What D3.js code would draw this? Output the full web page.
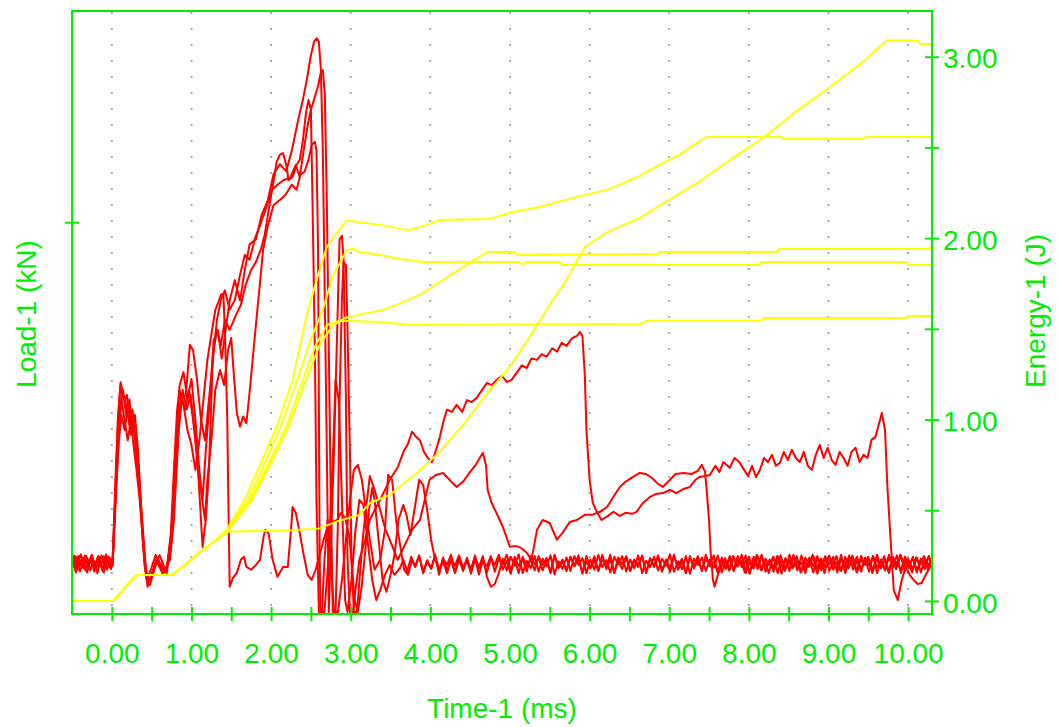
<!DOCTYPE html>
<html>
<head>
<meta charset="utf-8">
<script src="https://cdn.jsdelivr.net/npm/d3@7"></script>
<style>
  body { margin: 0; background: #fff; }
  svg { display: block; font-family: "Liberation Sans", Arial, sans-serif; }
</style>
</head>
<body>
<script>
// time axis (ms)
const timeMajor = [0, 1, 2, 3, 4, 5, 6, 7, 8, 9, 10];
const timeMinor = [0, 0.5, 1, 1.5, 2, 2.5, 3, 3.5, 4, 4.5, 5, 5.5, 6, 6.5, 7, 7.5, 8, 8.5, 9, 9.5, 10];
// energy axis (J)
const energyMajor = [0, 1, 2, 3];
const energyMinor = [0, 0.5, 1, 1.5, 2, 2.5, 3];
// load axis (kN), only one unlabeled tick
const loadTicks = [1];

// load curves [ms, kN]
const load1 = [[-0.50,0.01],[-0.46,-0.02],[-0.42,0.02],[-0.38,-0.012],[-0.34,0.022],[-0.30,-0.018],[-0.26,0.01],[-0.22,-0.025],[-0.18,0.015],[-0.14,-0.01],[-0.10,0.02],[-0.06,-0.02],[-0.02,0.012],
  [0.01,0],[0.05,0.24],[0.075,0.42],[0.11,0.53],[0.15,0.49],[0.19,0.45],[0.22,0.48],[0.26,0.405],[0.30,0.36],[0.34,0.27],[0.38,0.126],[0.41,0.01],[0.45,-0.07],[0.50,-0.035],[0.565,0.015],[0.63,-0.015],[0.69,-0.03],
  [0.73,0.04],[0.78,0.185],[0.82,0.39],[0.85,0.52],[0.90,0.56],[0.95,0.48],[1.00,0.54],[1.05,0.42],[1.10,0.27],[1.14,0.185],[1.18,0.33],[1.23,0.48],[1.28,0.655],[1.33,0.684],[1.38,0.60],[1.43,0.684],[1.48,0.77],
  [1.545,0.83],[1.61,0.77],[1.67,0.86],[1.73,0.935],[1.81,0.95],[1.88,1.02],[1.96,1.065],[2.03,1.14],[2.11,1.17],[2.19,1.15],[2.26,1.21],[2.34,1.30],[2.40,1.36],[2.45,1.42],[2.50,1.49],[2.54,1.53],[2.575,1.54],
  [2.60,1.53],[2.625,1.45],[2.65,1.21],[2.675,0.77],[2.70,0.33],[2.725,-0.144],[2.79,0.33],[2.84,0.77],[2.86,0.95],[2.89,0.96],[2.91,0.89],[2.94,0.48],[2.96,0.01],[2.99,-0.144],[3.03,-0.144],[3.06,-0.08],
  [3.11,0.01],[3.18,0.068],[3.24,0.126],[3.30,0.155],[3.37,0.185],[3.43,0.214],[3.49,0.244],[3.59,0.28],[3.67,0.33],[3.72,0.35],[3.77,0.385],[3.82,0.37],[3.87,0.36],[3.92,0.326],[3.97,0.308],[4.02,0.296],
  [4.07,0.33],[4.12,0.37],[4.17,0.42],[4.21,0.45],[4.27,0.443],[4.33,0.464],[4.40,0.443],[4.46,0.478],[4.52,0.472],[4.58,0.484],[4.65,0.508],[4.71,0.528],[4.77,0.522],[4.83,0.537],[4.90,0.549],[4.96,0.531],
  [5.02,0.537],[5.09,0.56],[5.15,0.58],[5.21,0.572],[5.27,0.60],[5.34,0.596],[5.40,0.613],[5.46,0.605],[5.53,0.63],[5.59,0.62],[5.65,0.646],[5.71,0.637],[5.78,0.66],[5.84,0.666],[5.88,0.678],[5.91,0.666],
  [5.94,0.552],[5.96,0.39],[6.00,0.244],[6.04,0.176],[6.09,0.15],[6.15,0.126],[6.23,0.138],[6.30,0.15],[6.38,0.138],[6.45,0.147],[6.53,0.144],[6.59,0.15],[6.67,0.176],[6.76,0.194],[6.83,0.202],[6.92,0.205],
  [7.01,0.214],[7.09,0.205],[7.18,0.217],[7.26,0.223],[7.33,0.244],[7.38,0.252],[7.45,0.255],
  [7.51,0.258],[7.58,0.285],[7.63,0.267],[7.68,0.296],[7.76,0.279],[7.82,0.308],[7.88,0.296],[7.94,0.273],[7.99,0.255],[8.04,0.285],[8.09,0.252],[8.14,0.273],[8.19,0.308],[8.24,0.296],[8.29,0.317],
  [8.34,0.285],[8.39,0.294],[8.44,0.326],[8.49,0.302],[8.54,0.332],[8.59,0.308],[8.64,0.296],[8.69,0.326],[8.74,0.285],[8.79,0.273],[8.84,0.317],[8.89,0.346],[8.94,0.308],[8.99,0.338],[9.04,0.302],
  [9.09,0.288],[9.14,0.326],[9.19,0.308],[9.24,0.285],[9.29,0.326],[9.34,0.338],[9.39,0.296],[9.44,0.317],[9.49,0.308],
  [9.54,0.361],[9.59,0.37],[9.63,0.405],[9.67,0.44],[9.71,0.39],[9.74,0.223],[9.78,0.068],[9.82,-0.08],[9.87,-0.109],[9.92,-0.05],[9.97,-0.012],[10.02,-0.035],
  [10.07,-0.05],[10.12,-0.062],[10.17,-0.059],[10.22,-0.035],[10.27,-0.015],[10.30,0.01]];

const load2Head = [[-0.50,-0.015],[-0.45,0.018],[-0.40,-0.025],[-0.35,0.012],[-0.30,-0.01],[-0.25,0.024],[-0.20,-0.02],[-0.15,0.008],[-0.10,-0.028],[-0.05,0.016],[-0.01,-0.01],
  [0.01,-0.005],[0.05,0.185],[0.09,0.39],[0.12,0.48],[0.16,0.42],[0.20,0.36],[0.24,0.42],[0.28,0.33],[0.31,0.273],[0.35,0.185],[0.39,0.068],[0.43,-0.035],[0.46,-0.059],[0.52,-0.02],[0.58,0.01],[0.64,-0.035],
  [0.70,-0.006],[0.75,0.097],[0.80,0.273],[0.84,0.39],[0.88,0.48],[0.93,0.493],[0.98,0.64],[1.02,0.625],[1.07,0.537],[1.12,0.42],[1.17,0.36],[1.22,0.48],[1.27,0.596],[1.32,0.713],[1.37,0.772],[1.42,0.80],
  [1.48,0.743],[1.545,0.772],[1.61,0.845],[1.67,0.904],[1.73,0.89],[1.80,0.954],[1.86,0.99],[1.93,1.036],[2.01,1.095],[2.08,1.11],[2.16,1.124],[2.24,1.13],[2.31,1.168],[2.36,1.133],[2.41,1.212],[2.46,1.285],
  [2.50,1.33],[2.54,1.36],[2.59,1.40],[2.625,1.44],[2.65,1.447],[2.675,1.374],[2.70,1.065],[2.725,0.625],[2.75,0.185],[2.775,-0.144],[2.81,-0.144],[2.84,0.126],[2.86,0.478],[2.89,0.772],[2.91,0.883],
  [2.94,0.874],[2.96,0.684],[2.99,0.33],[3.01,0.01],[3.04,-0.144],[3.08,-0.144],[3.11,-0.05],[3.15,0.068],[3.19,0.155],[3.24,0.255],[3.30,0.214],[3.37,0.155],[3.43,0.103],[3.49,0.068],[3.59,0.009],
  [3.68,0.053],[3.77,0.097],[3.87,0.126],[3.93,0.185],[3.99,0.244],[4.07,0.258],[4.16,0.264],[4.24,0.244],[4.33,0.223],[4.41,0.238],[4.50,0.267],[4.57,0.288],[4.62,0.308],[4.66,0.323],[4.70,0.285],
  [4.72,0.214],[4.77,0.176],[4.83,0.147],[4.91,0.106],[5.00,0.047],[5.07,0.05],[5.14,0.044],[5.21,0.03],[5.27,0.009],[5.34,0.097],[5.41,0.126],[5.50,0.117],[5.59,0.068],[5.66,0.088],[5.75,0.12],[5.84,0.126],
  [5.94,0.141],[6.03,0.141],[6.13,0.15],[6.22,0.164],[6.30,0.194],[6.38,0.223],[6.45,0.238],[6.54,0.252],[6.63,0.264],[6.71,0.261],[6.78,0.25],[6.86,0.232],[6.92,0.223],[7.01,0.244],[7.08,0.261],[7.18,0.264],
  [7.28,0.261],[7.36,0.27],[7.41,0.288],[7.45,0.267],[7.47,0.214],[7.50,0.126],[7.52,0.03],[7.55,-0.05],[7.57,-0.07],[7.61,-0.035],[7.66,-0.009]];

const load3Head = [[-0.50,0.02],[-0.44,-0.01],[-0.39,0.025],[-0.33,-0.022],[-0.28,0.012],[-0.22,-0.015],[-0.17,0.02],[-0.11,-0.025],[-0.06,0.01],[-0.01,-0.018],
  [0.01,0.009],[0.06,0.273],[0.10,0.45],[0.14,0.508],[0.18,0.434],[0.21,0.464],[0.25,0.39],[0.29,0.434],[0.33,0.33],[0.36,0.185],[0.40,0.038],[0.44,-0.05],[0.49,-0.02],[0.55,0.023],[0.62,-0.006],[0.68,-0.026],
  [0.74,0.053],[0.79,0.214],[0.83,0.36],[0.87,0.493],[0.92,0.45],[0.97,0.508],[1.02,0.42],[1.07,0.317],[1.12,0.214],[1.17,0.126],[1.20,0.244],[1.25,0.36],[1.30,0.508],[1.36,0.566],[1.41,0.522],[1.46,0.625],
  [1.50,0.66],[1.53,0.56],[1.57,0.44],[1.61,0.40],[1.65,0.43],[1.69,0.41],[1.73,0.50],[1.77,0.60],[1.81,0.70],[1.86,0.82],[1.90,0.92],[1.96,0.99],[2.03,1.05],[2.11,1.065],[2.18,1.08],[2.26,1.11],[2.32,1.095],
  [2.37,1.14],[2.42,1.148],[2.47,1.183],[2.51,1.227],[2.55,1.236],[2.57,1.212],[2.59,0.92],[2.60,0.478],[2.61,0.038],[2.62,-0.144],[2.67,-0.144],[2.72,0.009],[2.78,0.33],[2.81,0.537],[2.85,0.478],[2.89,0.185],
  [2.93,-0.109],[2.96,-0.144],[3.01,-0.05],[3.06,0.097],[3.11,0.185],[3.16,0.17],[3.21,0.068],[3.27,-0.05],[3.32,-0.109],[3.37,-0.08],[3.43,-0.035],[3.49,-0.006],[3.55,-0.035],[3.62,-0.015]];

const load4Head = [[-0.50,-0.005],[-0.47,0.022],[-0.43,-0.02],[-0.37,0.015],[-0.31,-0.028],[-0.26,0.02],[-0.21,-0.01],[-0.16,0.018],[-0.12,-0.022],[-0.07,0.025],[-0.03,-0.012],
  [0.01,-0.009],[0.05,0.214],[0.09,0.36],[0.12,0.434],[0.16,0.39],[0.20,0.45],[0.24,0.376],[0.28,0.405],[0.31,0.30],[0.35,0.214],[0.39,0.097],[0.43,-0.02],[0.48,-0.065],[0.54,-0.006],[0.60,0.023],[0.67,-0.02],
  [0.73,0.009],[0.78,0.126],[0.82,0.30],[0.85,0.45],[0.89,0.508],[0.94,0.45],[0.99,0.493],[1.04,0.39],[1.09,0.244],[1.14,0.047],[1.18,0.126],[1.22,0.273],[1.27,0.616],[1.32,0.684],[1.37,0.64],[1.42,0.713],
  [1.48,0.684],[1.56,0.728],[1.62,0.757],[1.68,0.816],[1.75,0.86],[1.81,0.883],[1.87,0.919],[1.92,0.963],[1.97,1.036],[2.02,1.104],[2.07,1.177],[2.11,1.198],[2.15,1.203],[2.19,1.168],[2.22,1.124],[2.27,1.133],
  [2.32,1.168],[2.36,1.183],[2.40,1.241],[2.44,1.324],[2.47,1.359],[2.50,1.33],[2.52,1.065],[2.55,0.625],[2.57,0.185],[2.60,-0.144],[2.64,-0.144],[2.67,0.009],[2.71,0.126],[2.75,0.009],[2.79,-0.144],
  [2.84,-0.144],[2.89,-0.05],[2.94,0.068],[2.99,0.185],[3.04,0.273],[3.09,0.288],[3.14,0.244],[3.19,0.155],[3.24,0.068],[3.30,-0.02],[3.37,0.009],[3.43,0.097],[3.47,0.258],[3.52,0.244],[3.57,0.126],
  [3.62,0.053],[3.67,-0.02],[3.72,-0.035],[3.77,0.009]];

const load5Head = [[-0.50,0.015],[-0.45,-0.028],[-0.41,0.01],[-0.36,-0.015],[-0.32,0.02],[-0.27,-0.022],[-0.23,0.008],[-0.18,-0.03],[-0.13,0.022],[-0.08,-0.012],[-0.04,0.018],
  [0.01,0.003],[0.05,0.273],[0.09,0.464],[0.11,0.522],[0.15,0.478],[0.19,0.493],[0.22,0.405],[0.26,0.45],[0.30,0.346],[0.34,0.244],[0.38,0.097],[0.41,-0.006],[0.45,-0.065],[0.50,-0.044],[0.565,0.003],
  [0.63,-0.026],[0.69,-0.015],[0.74,0.082],[0.78,0.273],[0.82,0.45],[0.85,0.508],[0.90,0.464],[0.95,0.39],[1.00,0.346],[1.05,0.273],[1.10,0.36],[1.15,0.478],[1.20,0.596],[1.25,0.67],[1.30,0.743],
  [1.35,0.772],[1.37,0.787],[1.40,0.79],[1.42,0.684],[1.45,0.42],[1.46,0.244],[1.48,-0.07],[1.52,-0.044],[1.57,-0.029],[1.62,0.009],[1.66,0.018],[1.69,-0.012],[1.75,-0.02],[1.81,-0.006],[1.86,0.009],
  [1.91,0.082],[1.93,0.097],[1.97,0.085],[2.02,0.009],[2.08,-0.041],[2.15,-0.012],[2.21,-0.012],[2.25,0.097],[2.27,0.164],[2.31,0.147],[2.36,0.088],[2.41,0.023],[2.46,-0.035],[2.51,-0.05],[2.56,-0.02],
  [2.61,0.023],[2.66,0.068],[2.71,0.106],[2.77,0.12],[2.83,0.126],[2.88,0.147],[2.93,0.132],[2.98,0.082],[3.01,0.009],[3.05,-0.109],[3.09,-0.144],[3.14,-0.065],[3.19,0.053],[3.23,0.155],[3.27,0.22],
  [3.30,0.185],[3.35,0.068],[3.40,-0.05],[3.45,-0.085],[3.50,-0.035],[3.55,0.023],[3.60,0.126],[3.66,0.17],[3.70,0.141],[3.75,0.082],[3.81,0.17],[3.86,0.244],[3.91,0.229],[3.96,0.155],[4.01,0.068],
  [4.06,0.009],[4.12,-0.02]];

// sampled noise on the baseline after the curves settle (kN, one sample every 0.05 ms)
const TAIL_STEP = 0.05;
const load2TailStart = 7.70;
const load2Tail = [0.014,-0.022,0.02,-0.01,0.006,-0.028,0.018,-0.014,0.024,-0.02,0.008,-0.03,0.016,-0.006,0.022,-0.024,0.01,-0.016,0.02,-0.028,
  0.004,-0.012,0.024,-0.02,0.012,-0.03,0.018,-0.008,0.02,-0.022,0.006,-0.016,0.022,-0.026,0.01,-0.004,0.018,-0.03,0.014,-0.012,
  0.02,-0.024,0.008,-0.018,0.024,-0.01,0.012,-0.028,0.016,-0.006,0.02,-0.022,0.01];
const load3TailStart = 3.66;
const load3Tail = [0.01,-0.025,0.018,-0.01,0.022,-0.03,0.005,-0.018,0.02,-0.035,0.012,-0.005,0.024,-0.028,0.008,-0.02,0.015,-0.032,0.01,-0.012,
  0.02,-0.04,-0.07,-0.062,-0.03,0.012,-0.022,0.018,-0.008,0.025,-0.03,0.006,-0.015,0.02,-0.026,0.012,-0.01,0.022,-0.034,0.004,
  -0.018,0.016,-0.024,0.02,-0.006,0.014,-0.03,0.01,-0.02,0.024,-0.012,0.008,-0.028,0.018,-0.004,0.02,-0.025,0.01,-0.016,0.022,
  -0.03,0.006,-0.012,0.018,-0.022,0.012,-0.008,0.025,-0.026,0.004,-0.018,0.02,-0.032,0.012,-0.006,0.016,-0.024,0.01,-0.014,0.022,
  -0.028,0.008,-0.02,0.018,-0.01,0.024,-0.03,0.002,-0.016,0.02,-0.022,0.012,-0.006,0.018,-0.03,0.01,-0.018,0.024,-0.012,0.006,
  -0.026,0.016,-0.008,0.02,-0.032,0.012,-0.014,0.022,-0.02,0.004,-0.024,0.018,-0.01,0.014,-0.028,0.02,-0.006,0.01,-0.022,0.024,
  -0.016,0.008,-0.03,0.018,-0.01,0.022,-0.024,0.006,-0.018,0.016,-0.028,0.012,-0.008,0.02];
const load4TailStart = 3.81;
const load4Tail = [-0.012,0.02,-0.028,0.008,-0.016,0.024,-0.02,0.004,-0.03,0.014,-0.008,0.022,-0.024,0.01,-0.018,0.016,-0.034,0.006,-0.01,0.02,
  -0.026,0.012,-0.004,0.024,-0.02,0.008,-0.03,0.018,-0.012,0.01,-0.022,0.02,-0.006,0.014,-0.028,0.022,-0.016,0.004,-0.024,0.018,
  -0.01,0.012,-0.032,0.02,-0.014,0.006,-0.022,0.024,-0.018,0.01,-0.028,0.016,-0.004,0.02,-0.024,0.008,-0.012,0.022,-0.03,0.014,
  -0.008,0.018,-0.026,0.01,-0.016,0.024,-0.02,0.002,-0.03,0.016,-0.01,0.02,-0.024,0.012,-0.006,0.022,-0.028,0.008,-0.018,0.014,
  -0.022,0.02,-0.012,0.006,-0.03,0.018,-0.008,0.024,-0.026,0.01,-0.014,0.02,-0.032,0.012,-0.004,0.016,-0.022,0.022,-0.016,0.008,
  -0.028,0.014,-0.01,0.02,-0.024,0.006,-0.018,0.024,-0.03,0.01,-0.006,0.018,-0.02,0.012,-0.026,0.02,-0.012,0.004,-0.022,0.016,
  -0.008,0.022,-0.03,0.01,-0.016,0.018,-0.024,0.012,-0.006,0.02,-0.02];
const load5TailStart = 4.16;
const load5Tail = [0.016,-0.022,0.008,-0.03,0.02,-0.012,0.004,-0.024,0.022,-0.016,0.01,-0.028,0.014,-0.006,0.024,-0.02,0.006,-0.032,0.018,-0.01,
  0.012,-0.026,0.02,-0.004,0.016,-0.022,0.008,-0.03,0.024,-0.014,0.01,-0.02,0.018,-0.008,0.022,-0.028,0.004,-0.016,0.02,-0.024,
  0.012,-0.01,0.024,-0.03,0.006,-0.018,0.016,-0.022,0.01,-0.006,0.02,-0.028,0.014,-0.012,0.022,-0.02,0.004,-0.026,0.018,-0.008,
  0.012,-0.03,0.02,-0.016,0.008,-0.022,0.024,-0.01,0.004,-0.028,0.016,-0.014,0.02,-0.024,0.01,-0.006,0.022,-0.032,0.012,-0.018,
  0.018,-0.008,0.006,-0.026,0.02,-0.012,0.014,-0.024,0.024,-0.016,0.002,-0.03,0.016,-0.01,0.02,-0.022,0.01,-0.004,0.018,-0.028,
  0.012,-0.014,0.022,-0.02,0.006,-0.026,0.016,-0.008,0.02,-0.03,0.01,-0.016,0.024,-0.012,0.004,-0.022,0.018,-0.006,0.014,-0.028,
  0.01,-0.018,0.02,-0.01];

// energy curves [ms, J]
const energy1 = [[-0.50,0],[0.015,0],[0.31,0.143],[0.765,0.143],[1.10,0.265],[1.31,0.336],[1.455,0.382],[2.27,0.39],[2.61,0.40],[2.82,0.437],[3.11,0.474],[3.24,0.54],[3.49,0.584],[3.87,0.72],[4.12,0.823],
  [4.43,0.98],[4.75,1.163],[5.00,1.29],[5.25,1.457],[5.54,1.66],[5.71,1.77],[5.94,1.95],[6.21,2.03],[6.63,2.11],[6.92,2.19],[7.34,2.30],[7.76,2.43],[8.17,2.55],[8.60,2.70],[9.01,2.83],[9.43,2.97],
  [9.73,3.09],[10.12,3.09],[10.15,3.07],[10.30,3.07]];
const energy2 = [[-0.50,0],[0.015,0],[0.31,0.143],[0.765,0.143],[1.10,0.265],[1.31,0.336],[1.44,0.391],[1.67,0.557],[1.88,0.766],[2.08,0.97],[2.27,1.218],[2.45,1.577],[2.59,1.797],[2.70,1.951],
  [2.82,2.023],[2.95,2.10],[3.08,2.089],[3.37,2.073],[3.62,2.051],[3.74,2.045],[3.96,2.073],[4.12,2.10],[4.74,2.106],[5.04,2.144],[5.37,2.172],[5.79,2.222],[6.22,2.266],[6.63,2.343],[6.92,2.415],
  [7.13,2.459],[7.35,2.525],[7.47,2.558],[8.41,2.558],[8.44,2.547],[9.43,2.547],[9.47,2.558],[10.30,2.558]];
const energy3 = [[-0.50,0],[0.015,0],[0.31,0.143],[0.765,0.143],[1.10,0.265],[1.31,0.336],[1.44,0.386],[1.71,0.557],[1.93,0.766],[2.13,0.97],[2.33,1.218],[2.52,1.466],[2.65,1.604],[2.77,1.786],
  [2.95,1.935],[3.03,1.94],[3.11,1.924],[3.37,1.907],[3.62,1.885],[3.91,1.869],[5.12,1.869],[5.16,1.852],[5.20,1.869],[5.63,1.869],[5.65,1.852],[8.14,1.852],[8.16,1.869],[9.98,1.869],[10.0,1.852],[10.30,1.852]];
const energy4 = [[-0.50,0],[0.015,0],[0.31,0.143],[0.765,0.143],[1.10,0.265],[1.31,0.336],[1.44,0.38],[1.74,0.557],[1.98,0.766],[2.20,0.97],[2.40,1.218],[2.56,1.411],[2.70,1.521],[2.86,1.544],
  [3.37,1.538],[3.74,1.521],[6.63,1.527],[6.73,1.544],[8.16,1.544],[8.18,1.56],[9.98,1.56],[10.0,1.571],[10.30,1.571]];
const energy5 = [[-0.50,0],[0.015,0],[0.31,0.143],[0.765,0.143],[1.10,0.265],[1.31,0.336],[1.44,0.375],[1.76,0.557],[2.01,0.766],[2.23,0.97],[2.44,1.218],[2.61,1.411],[2.77,1.516],[2.93,1.56],
  [2.99,1.566],[3.45,1.61],[3.87,1.687],[4.24,1.792],[4.53,1.874],[4.72,1.924],[5.06,1.924],[5.09,1.907],[6.856,1.913],[6.88,1.924],[8.35,1.924],[8.38,1.94],[10.25,1.94],[10.30,1.951]];

function withTail(head, start, values) {
  return head.concat(values.map((v, i) => [start + i * TAIL_STEP, v]));
}

const LOADS = [
  load1,
  withTail(load2Head, load2TailStart, load2Tail),
  withTail(load3Head, load3TailStart, load3Tail),
  withTail(load4Head, load4TailStart, load4Tail),
  withTail(load5Head, load5TailStart, load5Tail)
];
const ENERGIES = [energy1, energy2, energy3, energy4, energy5];

const WIDTH = 1060;
const HEIGHT = 727;
const LEFT = 72, RIGHT = 932, TOP = 11, BOTTOM = 614;
const GREEN = '#00ee00';
const FONT = 28;

const svg = d3.select('body')
  .append('svg')
  .attr('width', WIDTH)
  .attr('height', HEIGHT);

const x = d3.scaleLinear().domain([-0.5, 10.3]).range([LEFT, RIGHT]);
const yLoad = d3.scaleLinear().domain([-0.15, 1.62]).range([BOTTOM, TOP]);
const yEnergy = d3.scaleLinear().domain([-0.072, 3.252]).range([BOTTOM, TOP]);

svg.append('clipPath')
  .attr('id', 'plot')
  .append('rect')
  .attr('x', LEFT).attr('y', TOP)
  .attr('width', RIGHT - LEFT).attr('height', BOTTOM - TOP);

// dotted vertical grid
svg.append('g')
  .selectAll('line')
  .data(timeMajor)
  .enter()
  .append('line')
  .attr('x1', d => x(d)).attr('x2', d => x(d))
  .attr('y1', TOP + 1).attr('y2', BOTTOM)
  .attr('stroke', '#a8a8a0')
  .attr('stroke-width', 2)
  .attr('stroke-dasharray', '2,14');

const lineLoad = d3.line().x(d => x(d[0])).y(d => yLoad(d[1]));
const lineEnergy = d3.line().x(d => x(d[0])).y(d => yEnergy(d[1]));

const plot = svg.append('g').attr('clip-path', 'url(#plot)');

plot.selectAll('path.load')
  .data(LOADS)
  .enter()
  .append('path')
  .attr('class', 'load')
  .attr('d', lineLoad)
  .attr('fill', 'none')
  .attr('stroke', '#ff0000')
  .attr('stroke-width', 2)
  .attr('stroke-linejoin', 'round');

plot.selectAll('path.energy')
  .data(ENERGIES)
  .enter()
  .append('path')
  .attr('class', 'energy')
  .attr('d', lineEnergy)
  .attr('fill', 'none')
  .attr('stroke', '#ffff00')
  .attr('stroke-width', 2);

// frame
svg.append('rect')
  .attr('x', LEFT).attr('y', TOP)
  .attr('width', RIGHT - LEFT).attr('height', BOTTOM - TOP)
  .attr('fill', 'none')
  .attr('stroke', GREEN)
  .attr('stroke-width', 2);

function greenAxis(g) {
  g.select('.domain').remove();
  g.selectAll('line').attr('stroke', GREEN).attr('stroke-width', 2);
  g.selectAll('text').attr('fill', GREEN).attr('font-size', FONT)
    .attr('font-family', '"Liberation Sans", Arial, sans-serif');
}

// bottom ticks crossing the axis
svg.append('g')
  .attr('transform', `translate(0,${BOTTOM - 7})`)
  .call(d3.axisBottom(x).tickValues(timeMinor).tickSize(14).tickFormat(''))
  .call(greenAxis);

svg.append('g')
  .attr('transform', `translate(0,${BOTTOM})`)
  .call(d3.axisBottom(x).tickValues(timeMajor).tickSize(0).tickPadding(29).tickFormat(d3.format('.2f')))
  .call(greenAxis);

// right energy axis
svg.append('g')
  .attr('transform', `translate(${RIGHT - 7},0)`)
  .call(d3.axisRight(yEnergy).tickValues(energyMinor).tickSize(14).tickFormat(''))
  .call(greenAxis);

svg.append('g')
  .attr('transform', `translate(${RIGHT},0)`)
  .call(d3.axisRight(yEnergy).tickValues(energyMajor).tickSize(0).tickPadding(11).tickFormat(d3.format('.2f')))
  .call(greenAxis)
  .selectAll('text').attr('dy', '0.4em');

// left load axis: single tick
svg.append('g')
  .attr('transform', `translate(${LEFT + 7},0)`)
  .call(d3.axisLeft(yLoad).tickValues(loadTicks).tickSize(14).tickFormat(''))
  .call(greenAxis);

// titles
svg.append('text')
  .attr('x', (LEFT + RIGHT) / 2)
  .attr('y', 718)
  .attr('text-anchor', 'middle')
  .attr('fill', GREEN)
  .attr('font-size', FONT)
  .text('Time-1 (ms)');

svg.append('text')
  .attr('transform', 'translate(36,314) rotate(-90)')
  .attr('text-anchor', 'middle')
  .attr('fill', GREEN)
  .attr('font-size', FONT)
  .text('Load-1 (kN)');

svg.append('text')
  .attr('transform', 'translate(1045,311) rotate(-90)')
  .attr('text-anchor', 'middle')
  .attr('fill', GREEN)
  .attr('font-size', FONT)
  .text('Energy-1 (J)');
</script>
</body>
</html>
